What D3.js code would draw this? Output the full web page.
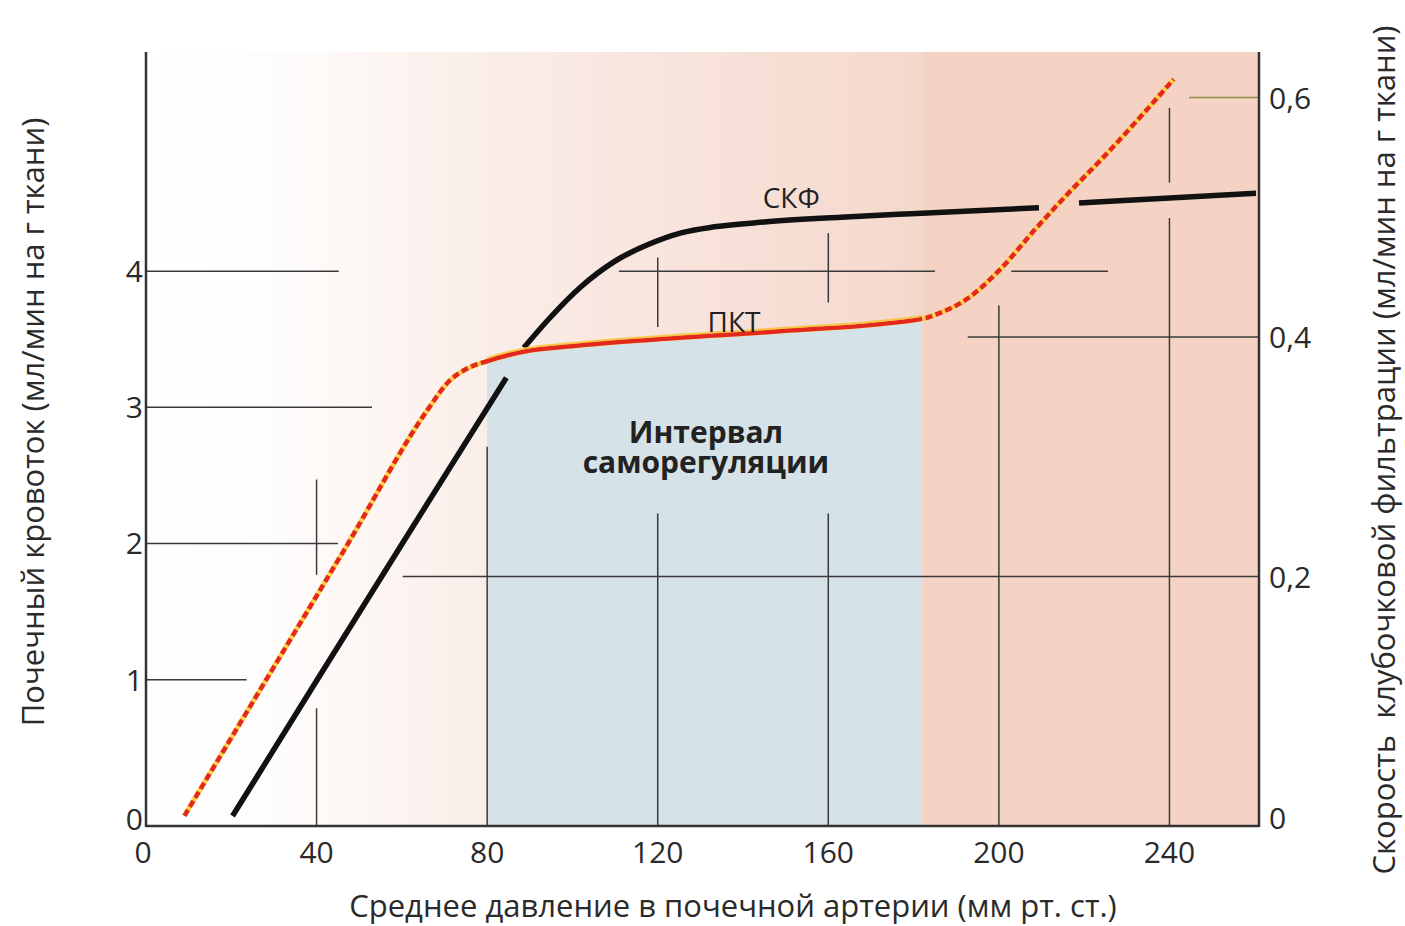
<!DOCTYPE html>
<html><head><meta charset="utf-8">
<script src="https://cdn.jsdelivr.net/npm/d3@7/dist/d3.min.js"></script>
<style>
body{margin:0;background:#fff;}
svg{display:block;font-family:"Open Sans",sans-serif;}
</style>
</head><body>
<svg id="chart" width="1405" height="926"></svg>
<script>
// ---- data ----
const xTicks = [0, 40, 80, 120, 160, 200, 240];
const xTickLabels = ["0", "40", "80", "120", "160", "200", "240"];
const leftTicks = [0, 1, 2, 3, 4];
const leftTickLabels = ["0", "1", "2", "3", "4"];
const rightTicks = [0, 0.2, 0.4, 0.6];
const rightTickLabels = ["0", "0,2", "0,4", "0,6"];

// Почечный кровоток (ПКТ), left axis
const pktPressure = [9, 28, 47, 66, 71, 75, 80, 88.7, 100, 120, 149, 182, 185, 192.7, 200.5, 208.3, 216.2, 224, 241];
const pktFlow     = [0, 0.99, 1.98, 2.98, 3.19, 3.28, 3.34, 3.41, 3.45, 3.5, 3.56, 3.65, 3.68, 3.8, 4.02, 4.3, 4.57, 4.82, 5.41];

// СКФ, right axis (three pieces, broken where ПКТ crosses)
const skfPressure1 = [20.3, 40, 60, 84.5];
const skfRate1     = [0, 0.113, 0.227, 0.366];
const skfPressure2 = [88.6, 94.2, 102, 109.8, 117.6, 125.5, 133.3, 145, 163, 179.4, 209.4];
const skfRate2     = [0.391, 0.414, 0.442, 0.463, 0.477, 0.487, 0.492, 0.496, 0.5, 0.503, 0.508];
const skfPressure3 = [218.8, 240, 260.3];
const skfRate3     = [0.512, 0.516, 0.52];

// autoregulation interval
const autoRange = [80, 182];

// partial grid segments (value units)
const hGridLeft = [ // [level, from, to]
  [4, 0, 45.2], [4, 110.9, 185], [4, 202.9, 225.6],
  [3, 0, 53], [2, 0, 45], [1, 0, 23.6]
];
const hGridRight = [
  [0.2, 60.2, 261], [0.4, 192.7, 261], [0.6, 244.6, 261]
];
const vGrid = [ // [pressure, fromLeftVal, toLeftVal]
  [40, 1.77, 2.47], [40, -0.08, 0.79],
  [80, -0.08, 2.71],
  [120, 3.59, 4.1], [120, -0.08, 2.22],
  [160, 3.77, 4.28], [160, -0.08, 2.22],
  [200, -0.08, 3.75],
  [240, 4.65, 5.2], [240, -0.08, 4.39]
];

// ---- scales ----
const svg = d3.select("#chart");
const X0 = 146, X1 = 1259, YB = 826, YT = 52;
const x = d3.scaleLinear().domain([0, 261]).range([X0, X1]);
const yL = d3.scaleLinear().domain([-0.075, 5.61]).range([YB, YT]);
const yR = d3.scaleLinear().domain([-0.00835, 0.638]).range([YB, YT]);

// ---- background ----
const defs = svg.append("defs");
const grad = defs.append("linearGradient").attr("id", "bg")
  .attr("gradientUnits", "userSpaceOnUse")
  .attr("x1", x(0)).attr("x2", x(autoRange[1])).attr("y1", 0).attr("y2", 0);
[[0, "#ffffff"], [0.18, "#fefcfb"], [0.45, "#faede8"], [0.75, "#f7e1d8"], [1, "#f5d8cc"]]
  .forEach(s => grad.append("stop").attr("offset", s[0]).attr("stop-color", s[1]));

svg.append("rect").attr("x", x(0)).attr("y", YT)
  .attr("width", x(autoRange[1]) - x(0)).attr("height", YB - YT).attr("fill", "url(#bg)");
svg.append("rect").attr("x", x(autoRange[1])).attr("y", YT)
  .attr("width", x(261) - x(autoRange[1])).attr("height", YB - YT).attr("fill", "#f4d3c5");

// blue autoregulation area under ПКТ
const pktPts = pktPressure.map((p, i) => [p, pktFlow[i]]);
const areaPts = pktPts.filter(d => d[0] >= autoRange[0] && d[0] <= autoRange[1]);
svg.append("path")
  .attr("d", d3.area().x(d => x(d[0])).y0(YB).y1(d => yL(d[1])).curve(d3.curveMonotoneX)(areaPts))
  .attr("fill", "#d5e2e7");

// ---- grid ----
const g = svg.append("g").attr("stroke", "#3a3a3a").attr("stroke-width", 1.5);
hGridLeft.forEach(s => g.append("line").attr("x1", x(s[1])).attr("x2", x(s[2]))
  .attr("y1", yL(s[0])).attr("y2", yL(s[0])));
hGridRight.forEach(s => g.append("line").attr("x1", x(s[1])).attr("x2", x(s[2]))
  .attr("y1", yR(s[0])).attr("y2", yR(s[0])).attr("stroke", s[0] === 0.6 ? "#8d8b4e" : null));
vGrid.forEach(s => g.append("line").attr("x1", x(s[0])).attr("x2", x(s[0]))
  .attr("y1", yL(s[1])).attr("y2", yL(s[2])));

// ---- axes ----
const ax = svg.append("g").attr("stroke", "#333").attr("stroke-width", 2.5).attr("fill", "none");
ax.append("line").attr("x1", X0).attr("x2", X0).attr("y1", YT).attr("y2", YB + 1);
ax.append("line").attr("x1", X1).attr("x2", X1).attr("y1", YT).attr("y2", YB + 1);
ax.append("line").attr("x1", X0).attr("x2", X1).attr("y1", YB).attr("y2", YB);

const lab = svg.append("g").attr("fill", "#2a2a2a").attr("font-size", 30);
xTicks.forEach((t, i) => lab.append("text").attr("x", x(t) - (t === 0 ? 3 : 0)).attr("y", 863)
  .attr("text-anchor", "middle").text(xTickLabels[i]));
leftTicks.forEach((t, i) => lab.append("text").attr("x", X0 - 3).attr("y", yL(t) + (t === 0 ? 14 : 11))
  .attr("text-anchor", "end").text(leftTickLabels[i]));
rightTicks.forEach((t, i) => lab.append("text").attr("x", X1 + 10).attr("y", yR(t) + (t === 0 ? 13 : 11))
  .attr("text-anchor", "start").text(rightTickLabels[i]));

const tt = svg.append("g").attr("fill", "#2a2a2a").attr("font-size", 31);
tt.append("text").attr("x", 733).attr("y", 917).attr("text-anchor", "middle")
  .text("Среднее давление в почечной артерии (мм рт. ст.)");
tt.append("text").attr("transform", "translate(44,422) rotate(-90)").attr("text-anchor", "middle")
  .text("Почечный кровоток (мл/мин на г ткани)");
tt.append("text").attr("transform", "translate(1395,450) rotate(-90)").attr("text-anchor", "middle")
  .attr("xml:space", "preserve").style("white-space", "pre")
  .text("Скорость  клубочковой фильтрации (мл/мин на г ткани)");

// ---- СКФ curve ----
const skfLine = d3.line().x(d => x(d[0])).y(d => yR(d[1])).curve(d3.curveMonotoneX);
[[skfPressure1, skfRate1], [skfPressure2, skfRate2], [skfPressure3, skfRate3]].forEach(([p, r]) => {
  svg.append("path").attr("d", skfLine(p.map((v, i) => [v, r[i]])))
    .attr("fill", "none").attr("stroke", "#111").attr("stroke-width", 5.5);
});

// ---- ПКТ curve ----
const pktLine = d3.line().x(d => x(d[0])).y(d => yL(d[1])).curve(d3.curveMonotoneX);
const pktD = pktLine(pktPts);
svg.append("path").attr("d", pktD).attr("fill", "none").attr("stroke", "#fdd24a").attr("stroke-width", 5);
const red = svg.append("path").attr("d", pktD).attr("fill", "none")
  .attr("stroke", "#e3291f").attr("stroke-width", 4.5);

const node = red.node();
const total = node.getTotalLength();
function lenAt(px) {
  let lo = 0, hi = total;
  for (let k = 0; k < 40; k++) {
    const mid = (lo + hi) / 2;
    if (node.getPointAtLength(mid).x < px) lo = mid; else hi = mid;
  }
  return lo;
}
const l1 = lenAt(x(autoRange[0])), l2 = lenAt(x(autoRange[1]));
const dash = [];
let pos = 0;
while (pos + 10 < l1) { dash.push(7, 3.5); pos += 10.5; }
dash.push(l2 - pos, 3.5); pos = l2 + 3.5;
while (pos < total + 20) { dash.push(7, 3.5); pos += 10.5; }
red.attr("stroke-dasharray", dash.join(" "));

// yellow edge above the solid part
svg.append("path").attr("d", pktD).attr("fill", "none").attr("stroke", "#f8c23a")
  .attr("stroke-width", 2).attr("transform", "translate(0,-3)")
  .attr("stroke-dasharray", `0 ${l1} ${l2 - l1} ${total}`).attr("opacity", 0.9);

// ---- labels ----
const tl = svg.append("g").attr("fill", "#222");
tl.append("text").attr("x", x(151.3)).attr("y", yR(0.508)).attr("text-anchor", "middle")
  .attr("font-size", 28).text("СКФ");
tl.append("text").attr("x", x(137.9)).attr("y", yL(3.55)).attr("text-anchor", "middle")
  .attr("font-size", 28).text("ПКТ");
const iv = tl.append("text").attr("text-anchor", "middle")
  .attr("font-size", 30).attr("font-weight", "bold");
iv.append("tspan").attr("x", x(131.3)).attr("y", yL(2.74)).text("Интервал");
iv.append("tspan").attr("x", x(131.3)).attr("y", yL(2.52)).text("саморегуляции");
</script>
</body></html>
